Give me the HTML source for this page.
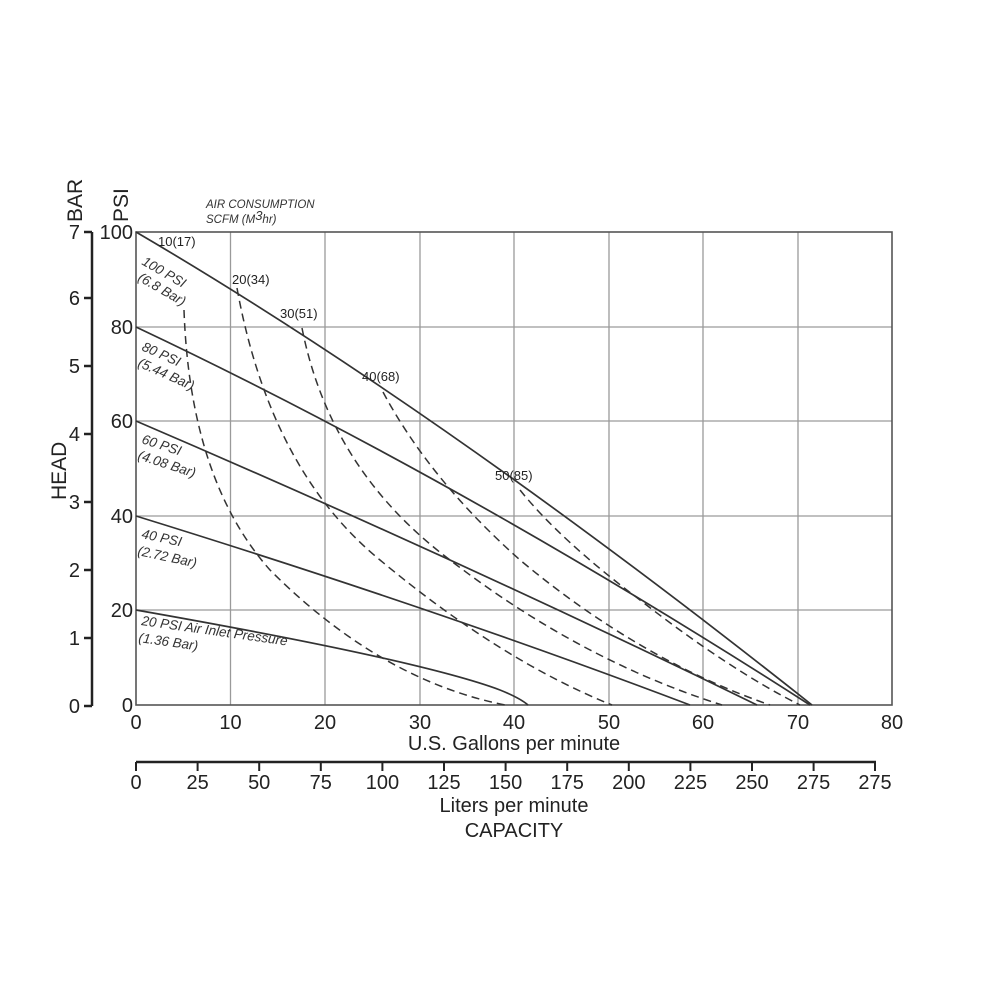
<!DOCTYPE html>
<html><head><meta charset="utf-8"><style>
html,body{margin:0;padding:0;background:#fff;}
svg{display:block;font-family:"Liberation Sans",Arial,sans-serif;}
</style></head><body>
<svg width="1000" height="1000" viewBox="0 0 1000 1000" xmlns="http://www.w3.org/2000/svg">
<rect width="1000" height="1000" fill="#fff"/>
<g stroke="#9a9a9a" stroke-width="1.3">
<line x1="230.5" y1="232" x2="230.5" y2="705"/>
<line x1="325" y1="232" x2="325" y2="705"/>
<line x1="420" y1="232" x2="420" y2="705"/>
<line x1="514" y1="232" x2="514" y2="705"/>
<line x1="609" y1="232" x2="609" y2="705"/>
<line x1="703" y1="232" x2="703" y2="705"/>
<line x1="798" y1="232" x2="798" y2="705"/>
<line x1="136" y1="327" x2="892" y2="327"/>
<line x1="136" y1="421" x2="892" y2="421"/>
<line x1="136" y1="516" x2="892" y2="516"/>
<line x1="136" y1="610" x2="892" y2="610"/>
</g>
<rect x="136" y="232" width="756" height="473" fill="none" stroke="#555" stroke-width="1.6"/>
<g stroke="#222" stroke-width="2.5" fill="none">
<line x1="92" y1="232" x2="92" y2="706"/>
<line x1="84" y1="232" x2="92" y2="232"/>
<line x1="84" y1="298" x2="92" y2="298"/>
<line x1="84" y1="366" x2="92" y2="366"/>
<line x1="84" y1="434" x2="92" y2="434"/>
<line x1="84" y1="502" x2="92" y2="502"/>
<line x1="84" y1="570" x2="92" y2="570"/>
<line x1="84" y1="638" x2="92" y2="638"/>
<line x1="84" y1="706" x2="92" y2="706"/>
<line x1="136" y1="762" x2="876" y2="762"/>
</g>
<g stroke="#222" stroke-width="2">
<line x1="136" y1="762" x2="136" y2="771"/><line x1="197.6" y1="762" x2="197.6" y2="771"/><line x1="259.2" y1="762" x2="259.2" y2="771"/><line x1="320.8" y1="762" x2="320.8" y2="771"/><line x1="382.4" y1="762" x2="382.4" y2="771"/><line x1="444" y1="762" x2="444" y2="771"/><line x1="505.6" y1="762" x2="505.6" y2="771"/><line x1="567.2" y1="762" x2="567.2" y2="771"/><line x1="628.8" y1="762" x2="628.8" y2="771"/><line x1="690.4" y1="762" x2="690.4" y2="771"/><line x1="752" y1="762" x2="752" y2="771"/><line x1="813.6" y1="762" x2="813.6" y2="771"/><line x1="875" y1="762" x2="875" y2="771"/>
</g>
<g font-size="20" fill="#222" text-anchor="end">
<text x="80" y="239">7</text><text x="80" y="305">6</text><text x="80" y="373">5</text><text x="80" y="441">4</text><text x="80" y="509">3</text><text x="80" y="577">2</text><text x="80" y="645">1</text><text x="80" y="713">0</text>
<text x="133" y="239">100</text><text x="133" y="334">80</text><text x="133" y="428">60</text><text x="133" y="523">40</text><text x="133" y="617">20</text><text x="133" y="712">0</text>
</g>
<g font-size="20" fill="#222" text-anchor="middle">
<text x="136" y="729">0</text><text x="230.5" y="729">10</text><text x="325" y="729">20</text><text x="420" y="729">30</text><text x="514" y="729">40</text><text x="609" y="729">50</text><text x="703" y="729">60</text><text x="798" y="729">70</text><text x="892" y="729">80</text>
<text x="514" y="750">U.S. Gallons per minute</text>
<text x="136" y="789">0</text><text x="197.6" y="789">25</text><text x="259.2" y="789">50</text><text x="320.8" y="789">75</text><text x="382.4" y="789">100</text><text x="444" y="789">125</text><text x="505.6" y="789">150</text><text x="567.2" y="789">175</text><text x="628.8" y="789">200</text><text x="690.4" y="789">225</text><text x="752" y="789">250</text><text x="813.6" y="789">275</text><text x="875" y="789">275</text>
<text x="514" y="812">Liters per minute</text>
<text x="514" y="837">CAPACITY</text>
</g>
<g font-size="21" fill="#222">
<text transform="translate(82,222) rotate(-90)">BAR</text>
<text transform="translate(128,222) rotate(-90)">PSI</text>
<text transform="translate(66,500) rotate(-90)">HEAD</text>
</g>
<g font-size="11.5" font-style="italic" fill="#333">
<text x="206" y="208">AIR CONSUMPTION</text>
<text x="206" y="223">SCFM (M<tspan font-size="13" dy="-3">3</tspan><tspan dy="3">hr)</tspan></text>
</g>
<g fill="none" stroke="#333" stroke-width="1.7">
<path d="M136 232 Q440 410 812 705"/>
<path d="M136 327 Q460 480 810 705"/>
<path d="M136 421 Q460 560 757 705"/>
<path d="M136 516 Q440 610 690 705"/>
<path d="M136 610 Q420 660 500 690 Q520 698 528 705"/>
</g>
<g fill="none" stroke="#333" stroke-width="1.5" stroke-dasharray="8,5">
<path d="M184 310 Q190 480 270 570 Q380 680 505 705"/>
<path d="M237 288 Q270 470 380 560 Q500 660 612 705"/>
<path d="M302 328 Q330 470 450 560 Q580 660 722 705"/>
<path d="M383 392 Q430 480 520 560 Q640 660 770 705"/>
<path d="M520 490 Q560 540 640 600 Q730 670 800 705"/>
</g>
<g font-size="13" fill="#222">
<text x="158" y="246">10(17)</text>
<text x="232" y="284">20(34)</text>
<text x="280" y="318">30(51)</text>
<text x="362" y="381">40(68)</text>
<text x="495" y="480">50(85)</text>
</g>
<g font-size="13.5" fill="#333" font-style="italic">
<text transform="translate(141,264) rotate(30)">100 PSI</text>
<text transform="translate(137,280) rotate(30)">(6.8 Bar)</text>
<text transform="translate(141,350) rotate(24)">80 PSI</text>
<text transform="translate(137,366) rotate(24)">(5.44 Bar)</text>
<text transform="translate(141,443) rotate(18)">60 PSI</text>
<text transform="translate(137,459) rotate(18)">(4.08 Bar)</text>
<text transform="translate(141,538) rotate(12)">40 PSI</text>
<text transform="translate(137,555) rotate(12)">(2.72 Bar)</text>
<text transform="translate(141,625) rotate(8)">20 PSI Air Inlet Pressure</text>
<text transform="translate(138,642) rotate(8)">(1.36 Bar)</text>
</g>
</svg>
</body></html>
